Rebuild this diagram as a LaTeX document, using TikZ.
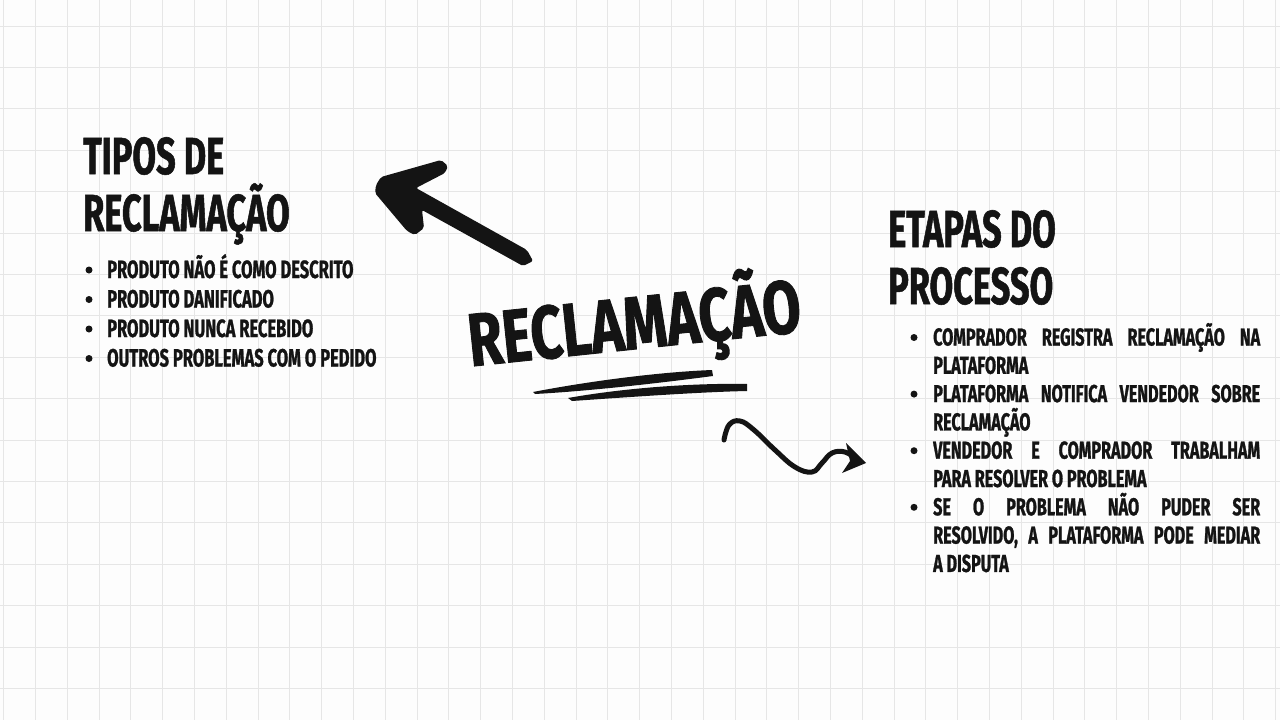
\documentclass[tikz,border=0pt]{standalone}
\usepackage{fontspec}
\setmainfont{Fira Sans}
\newfontfamily\brush{Fira Sans}[FakeStretch=0.66, BoldFeatures={FakeBold=1}]
\newfontfamily\brushwide{Fira Sans}[FakeStretch=0.74, BoldFeatures={FakeBold=1.2}]
\definecolor{ink}{HTML}{141414}
\definecolor{gridc}{HTML}{E6E6E6}
\definecolor{paper}{HTML}{FDFDFD}
\begin{document}
\begin{tikzpicture}[x=1pt,y=-1pt,
  gridline/.style={draw=gridc, line width=0.8pt},
  headtxt/.style={anchor=base west, inner sep=0pt, text=ink, font=\brush\bfseries\fontsize{52}{56}\selectfont},
  lefttxt/.style={anchor=base west, inner sep=0pt, text=ink, font=\brush\bfseries\fontsize{25}{29}\selectfont},
  righttxt/.style={anchor=base west, inner sep=0pt, text=ink, font=\brush\bfseries\fontsize{24.5}{28}\selectfont},
  titletxt/.style={anchor=base, inner sep=0pt, text=ink, font=\brushwide\bfseries\fontsize{75}{80}\selectfont},
  bul/.style={circle, fill=ink, minimum size=7pt, inner sep=0pt}
]
\useasboundingbox (0,0) rectangle (1280,720);
\fill[paper] (0,0) rectangle (1280,720);
% grid
\foreach \i in {0,...,40} {\draw[gridline] ({3.5+31.8*\i},0) -- ++(0,720);}
\foreach \j in {0,...,17} {\draw[gridline] (0,{26+41.4*\j}) -- ++(1280,0);}

% left heading and list
\node[headtxt] (h1a) at (83,174) {TIPOS DE};
\node[headtxt] (h1b) at (83,231) {RECLAMAÇÃO};
\node[lefttxt] (l1) at (107,278) {PRODUTO NÃO É COMO DESCRITO};
\node[lefttxt] (l2) at (107,307.5) {PRODUTO DANIFICADO};
\node[lefttxt] (l3) at (107,337) {PRODUTO NUNCA RECEBIDO};
\node[lefttxt] (l4) at (107,366.5) {OUTROS PROBLEMAS COM O PEDIDO};
\node[bul] (lb1) at (89,270) {};
\node[bul] (lb2) at (89,299.5) {};
\node[bul] (lb3) at (89,329) {};
\node[bul] (lb4) at (89,358.5) {};

% center title
\node[titletxt, rotate=6] (title) at (637,349) {RECLAMAÇÃO};

% underline strokes
\fill[ink] (533,392) .. controls (590,381) and (660,372) .. (712,370)
  -- (713,376) .. controls (660,383) and (590,391) .. (535,394) -- cycle;
\fill[ink] (568,398) .. controls (630,387) and (700,383) .. (747,384)
  -- (747,391) .. controls (700,392) and (630,397) .. (572,401) -- cycle;

% big arrow towards left heading
\fill[ink, rounded corners=2pt] (376,185) -- (381,177) -- (441,160) -- (448,166) -- (445,173)
  -- (416,188) -- (527,250) -- (533,261) -- (523,266) -- (422,210) -- (424,228)
  -- (415,235) -- (407,231) -- (375,193) -- cycle;

% squiggle arrow towards right heading
\draw[ink, line width=5pt, line cap=round] plot[smooth, tension=0.7] coordinates
  {(724,440) (729,425) (740,421) (754,430) (775,450) (795,467) (812,472) (822,463) (832,453) (845,452) (856,459)};
\fill[ink] (846,443) -- (866,463) -- (842,473) -- (850,461) -- cycle;

% right heading and list
\node[headtxt] (h2a) at (888,247) {ETAPAS DO};
\node[headtxt] (h2b) at (888,304) {PROCESSO};
\node[righttxt] (r1) at (933,345.5) {\makebox[327pt][s]{COMPRADOR REGISTRA RECLAMAÇÃO NA}};
\node[righttxt] (r2) at (933,373.8) {PLATAFORMA};
\node[righttxt] (r3) at (933,402.1) {\makebox[327pt][s]{PLATAFORMA NOTIFICA VENDEDOR SOBRE}};
\node[righttxt] (r4) at (933,430.4) {RECLAMAÇÃO};
\node[righttxt] (r5) at (933,458.7) {\makebox[327pt][s]{VENDEDOR E COMPRADOR TRABALHAM}};
\node[righttxt] (r6) at (933,487.0) {PARA RESOLVER O PROBLEMA};
\node[righttxt] (r7) at (933,515.3) {\makebox[327pt][s]{SE O PROBLEMA NÃO PUDER SER}};
\node[righttxt] (r8) at (933,543.6) {\makebox[327pt][s]{RESOLVIDO, A PLATAFORMA PODE MEDIAR}};
\node[righttxt] (r9) at (933,571.9) {A DISPUTA};
\node[bul] (rb1) at (914,337.5) {};
\node[bul] (rb2) at (914,394.1) {};
\node[bul] (rb3) at (914,450.7) {};
\node[bul] (rb4) at (914,507.3) {};
\end{tikzpicture}
\end{document}
